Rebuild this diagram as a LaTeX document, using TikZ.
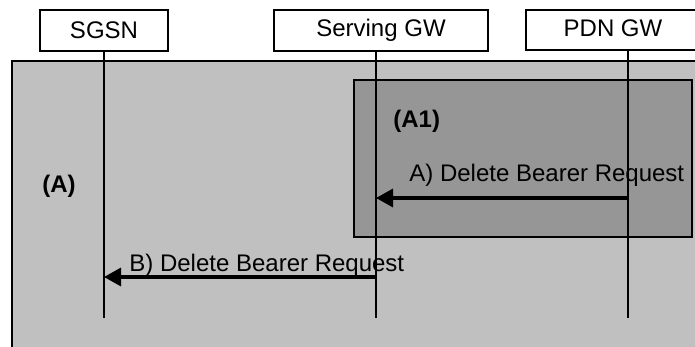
\documentclass[tikz,border=0pt]{standalone}
\usepackage{fontspec}
\setmainfont{Liberation Sans}
\usetikzlibrary{arrows.meta,positioning}

\begin{document}
\begin{tikzpicture}[x=0.5pt, y=-0.5pt, line join=miter,
  entity/.style={draw, line width=1pt, fill=white, inner sep=0pt, font=\fontsize{12}{14}\selectfont},
  lifeline/.style={line width=0.6pt},
  msg/.style={line width=1.6pt, -{Triangle[length=8.5pt,width=9pt]}},
  msglabel/.style={anchor=base west, inner sep=0pt, font=\fontsize{12}{14}\selectfont},
  tag/.style={anchor=base west, inner sep=0pt, font=\bfseries\fontsize{12}{14}\selectfont}]

% --- page frame (695 x 347) ---
\useasboundingbox (0,0) rectangle (695,347);

% --- shaded procedure areas ---
\filldraw[fill={rgb,255:red,192;green,192;blue,192}, line width=0.8pt] (12,61) rectangle (705,360);
\filldraw[fill={rgb,255:red,150;green,150;blue,150}, line width=0.8pt] (354,80) rectangle (692,237);

% --- entities ---
\node[entity, minimum width=64pt, minimum height=20.5pt] (sgsn) at (104,30.5) {SGSN};
\node[entity, minimum width=107pt, minimum height=20.5pt] (sgw) at (381,30.5) {Serving GW};
\node[entity, minimum width=87pt, minimum height=20pt] (pgw) at (613,30) {\raisebox{1.5pt}{PDN GW}};

% --- lifeline ends ---
\coordinate (sgsnEnd) at (104,318);
\coordinate (sgwEnd) at (376,318);
\coordinate (pgwEnd) at (628,318);
\coordinate (sgwTop) at (376,51);
\coordinate (pgwTop) at (628,50);

\draw[lifeline] (sgsn.south) -- (sgsnEnd);
\draw[lifeline] (sgwTop) -- (sgwEnd);
\draw[lifeline] (pgwTop) -- (pgwEnd);

% --- messages ---
\coordinate (aFrom) at (628,198);
\coordinate (aTo) at (376,198);
\coordinate (bFrom) at (376,277);
\coordinate (bTo) at (104,277);

\draw[msg] (aFrom) -- (aTo);
\draw[msg] (bFrom) -- (bTo);

\node[msglabel] (aLabel) at (409,182) {A) Delete Bearer Request};
\node[msglabel] (bLabel) at (129,271) {B) Delete Bearer Request};

% --- area tags ---
\node[tag] (tagA1) at (393,128) {(A1)};
\node[tag] (tagA) at (42,192) {(A)};

\end{tikzpicture}
\end{document}
